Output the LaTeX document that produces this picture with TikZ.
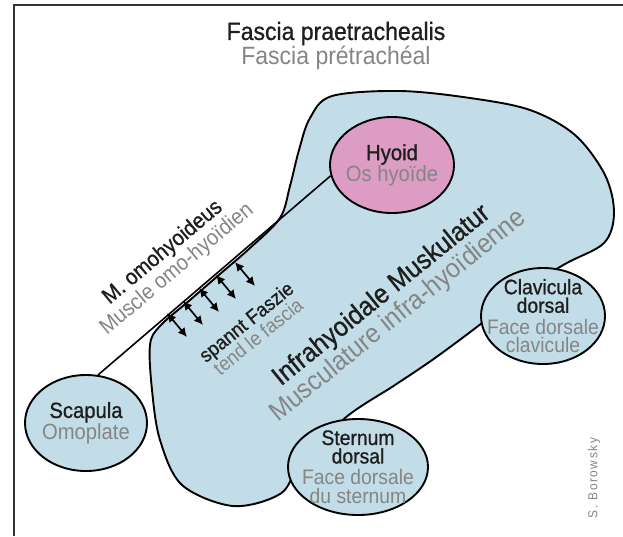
\documentclass[tikz,border=0pt]{standalone}
\usepackage{fontspec}
\setmainfont{Liberation Sans}[FakeStretch=0.92]
\newfontfamily\darkfont{Liberation Sans}[FakeStretch=0.92,FakeBold=0.9]
\usetikzlibrary{shapes.geometric,arrows.meta,positioning}
\definecolor{ink}{HTML}{1E1E1E}
\definecolor{fade}{HTML}{858585}
\definecolor{tissue}{HTML}{C2DDE7}
\definecolor{hyoidpink}{HTML}{DC9CC4}

\begin{document}
\begin{tikzpicture}[x=1pt,y=-1pt,
  bone/.style={draw,ellipse,line width=1.9pt,fill=tissue,inner sep=0pt,minimum height=96pt},
  lbl/.style={align=center,text=ink,inner sep=0pt,font=\darkfont\fontsize{21}{18.5}\selectfont},
  tilted/.style={lbl,rotate=39},
  tense/.style={{Latex[length=9pt,width=9pt]}-{Latex[length=9pt,width=9pt]},line width=1.7pt}]
\useasboundingbox (0,0) rectangle (623,536);
\draw[line width=2pt,black!80] (623,5) -- (14,5) -- (14,536);
% muscle body
\draw[line width=1.9pt,fill=tissue] plot[smooth cycle,tension=0.55] coordinates {
  (280,218) (290,186) (299,150) (310,118) (332,96) (400,91) (470,98) (530,110)
  (575,135) (605,175) (614,213) (604,243) (565,264) (520,292) (482,323) (435,358)
  (395,385) (345,418) (300,465) (280,494) (233,506) (182,485) (160,440) (152,390)
  (150,345) (160,326) (190,300) (220,274) (250,248)};
\node[bone,minimum width=122pt] (scapula) at (86,423) {};
\node[bone,fill=hyoidpink,minimum width=124pt] (hyoid) at (392,165) {};
\node[bone,minimum width=124pt] (clavicula) at (543,316) {};
\node[bone,minimum width=140pt] (sternum) at (358,467) {};
\draw[line width=1.6pt] (scapula.76) -- (hyoid.190);
\draw[tense] (167,313) -- ++(20,24);
\draw[tense] (183,301) -- ++(20,24);
\draw[tense] (199,288) -- ++(20,24);
\draw[tense] (216,275) -- ++(20,24);
\draw[tense] (235,262) -- ++(20,24);
% labels
\node[lbl,font=\darkfont\fontsize{25}{25}\selectfont] (title) at (336,46) {Fascia praetrachealis\\\textcolor{fade}{\normalfont Fascia prétrachéal}};
\node[lbl,font=\darkfont\fontsize{22}{21}\selectfont] (hyoidtxt) at (hyoid) {Hyoid\\\textcolor{fade}{\normalfont Os hyoïde}};
\node[lbl,font=\darkfont\fontsize{22}{20}\selectfont] (scapulatxt) at (scapula) {Scapula\\\textcolor{fade}{\normalfont Omoplate}};
\node[lbl] (claviculatxt) at (clavicula) {Clavicula\\dorsal\\[3pt]\textcolor{fade}{\normalfont Face dorsale}\\\textcolor{fade}{\normalfont clavicule}};
\node[lbl] (sternumtxt) at (sternum) {Sternum\\dorsal\\[3pt]\textcolor{fade}{\normalfont Face dorsale}\\\textcolor{fade}{\normalfont du sternum}};
\node[tilted,rotate=1,font=\darkfont\fontsize{22}{22}\selectfont] (omotxt) at (170,261) {M. omohyoideus\\\textcolor{fade}{\normalfont Muscle omo-hyoïdien}};
\node[tilted,font=\darkfont\fontsize{20}{19}\selectfont] (spannt) at (252,329) {spannt Faszie\\\textcolor{fade}{\normalfont tend le fascia}};
\node[tilted,font=\darkfont\fontsize{27}{25}\selectfont] (infra) at (390,306) {Infrahyoidale Muskulatur\\\textcolor{fade}{\normalfont Musculature infra-hyoïdienne}};
\node[lbl,rotate=90,text=fade,font=\fontsize{13}{13}\selectfont\addfontfeature{LetterSpace=12}] (author) at (594,478) {S. Borowsky};
\end{tikzpicture}
\end{document}
